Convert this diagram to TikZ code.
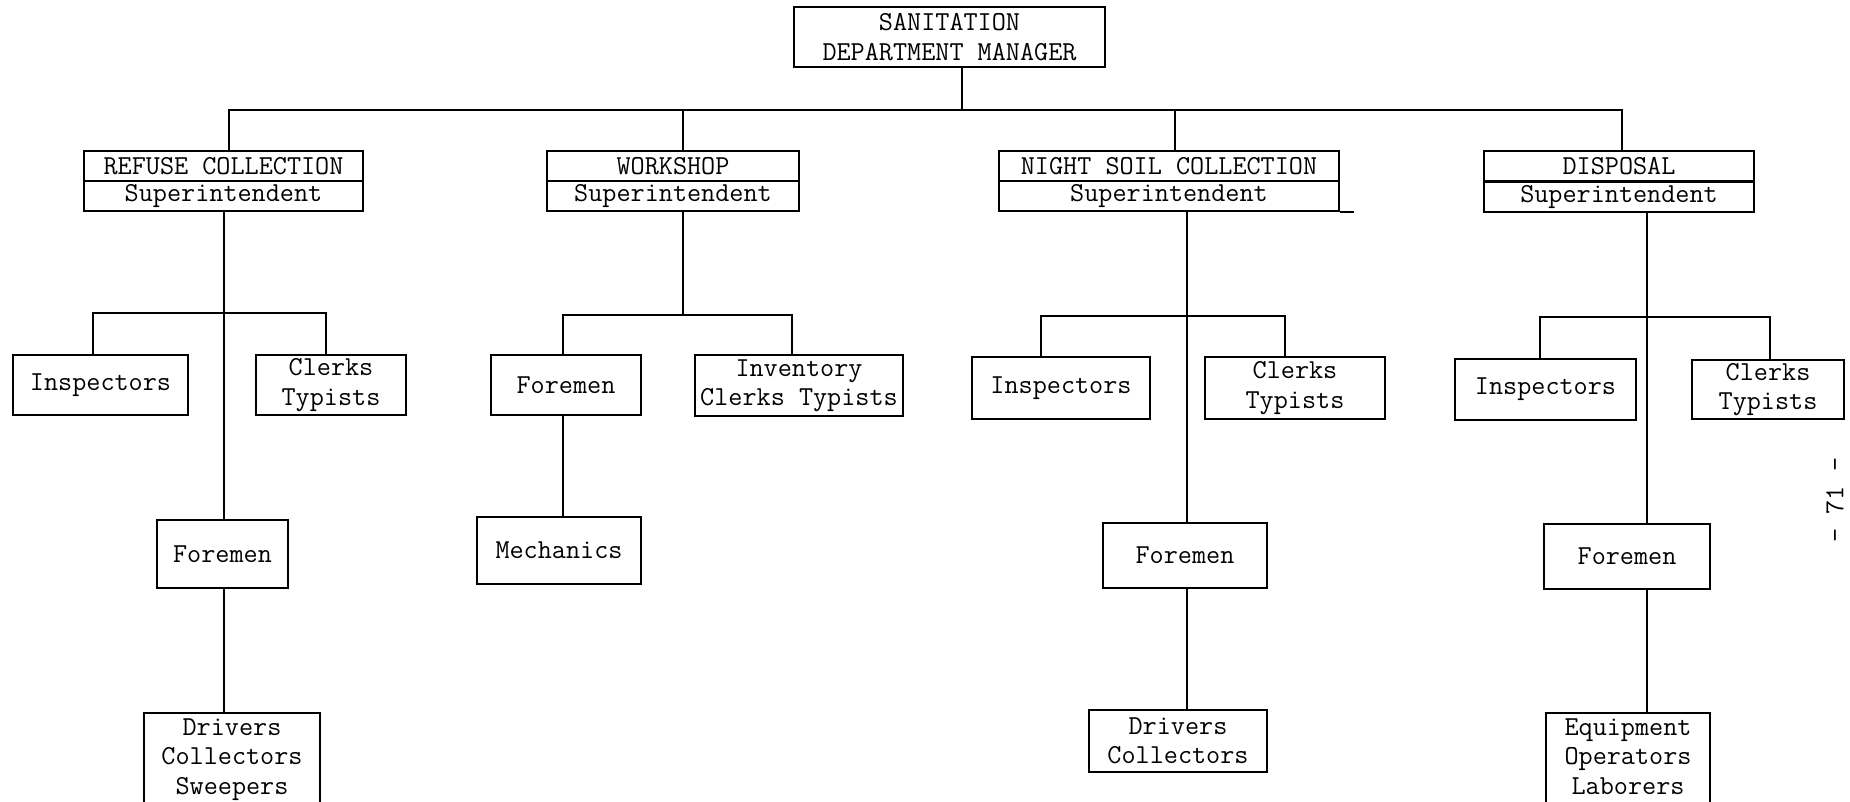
\documentclass[tikz,border=0pt]{standalone}
\usepackage{fontspec}
\newcommand\orgfont{\ttfamily\fontsize{13.7}{14.75}\selectfont}
\tikzset{
  box/.style={draw, line width=1.1pt, inner sep=0pt, font=\orgfont, align=center},
  lbl/.style={inner sep=0pt, font=\orgfont, align=center},
  conn/.style={line width=1.1pt},
}
\begin{document}
\begin{tikzpicture}[x=0.5pt,y=-0.5pt]
\useasboundingbox[fill=white] (0,0) rectangle (1850,802);

% top
\node[box, minimum width=155.5pt, minimum height=30pt] (top) at (949.5,37) {SANITATION\\DEPARTMENT MANAGER};

% level 2 boxes
\node[box, minimum width=139.5pt, minimum height=30pt] (ref) at (223.5,181) {};
\node[box, minimum width=126pt, minimum height=30pt] (work) at (673,181) {};
\node[box, minimum width=170pt, minimum height=30pt] (night) at (1169,181) {};
\node[box, minimum width=135pt, minimum height=30.5pt] (disp) at (1619,181.5) {};
\foreach \n in {ref,work,night,disp}{\draw[conn] (\n.west) -- (\n.east);}
\node[lbl] (refT) at (223.5,166) {REFUSE COLLECTION};
\node[lbl] (refB) at (223.5,196) {Superintendent};
\node[lbl] (workT) at (673,166) {WORKSHOP};
\node[lbl] (workB) at (673,196) {Superintendent};
\node[lbl] (nightT) at (1169,166) {NIGHT SOIL COLLECTION};
\node[lbl] (nightB) at (1169,196) {Superintendent};
\node[lbl] (dispT) at (1619,166.5) {DISPOSAL};
\node[lbl] (dispB) at (1619,197) {Superintendent};
\draw[conn] (night.south east) -- ++(14,0);

% top bus
\coordinate (t0) at (962,110);
\coordinate (tA) at (229,110);
\coordinate (tB) at (683,110);
\coordinate (tC) at (1175,110);
\coordinate (tD) at (1622,110);
\draw[conn] (top.south -| t0) -- (t0);
\draw[conn] (ref.north -| tA) -- (tA) -- (tD) -- (disp.north -| tD);
\draw[conn] (work.north -| tB) -- (tB);
\draw[conn] (night.north -| tC) -- (tC);

% refuse subtree
\node[box, minimum width=87.5pt, minimum height=30pt] (insp1) at (100.5,385) {Inspectors};
\node[box, minimum width=75pt, minimum height=30pt] (clerk1) at (331,385) {Clerks\\Typists};
\node[box, minimum width=65.5pt, minimum height=34pt] (fore1) at (222.5,554) {Foremen};
\node[box, minimum width=88pt, minimum height=55pt] (drv1) at (232,768) {};
\node[lbl, anchor=north] (drv1t) at (232,718) {Drivers\\Collectors\\Sweepers};
\coordinate (r1) at (224,313);
\coordinate (r1L) at (93,313);
\coordinate (r1R) at (326,313);
\draw[conn] (ref.south -| r1) -- (fore1.north -| r1);
\draw[conn] (insp1.north -| r1L) -- (r1L) -- (r1R) -- (clerk1.north -| r1R);
\draw[conn] (fore1.south -| r1) -- (drv1.north -| r1);

% workshop subtree
\node[box, minimum width=75pt, minimum height=30pt] (fore2) at (566,385) {Foremen};
\node[box, minimum width=104pt, minimum height=30.5pt] (inv) at (799,385.5) {Inventory\\Clerks Typists};
\node[box, minimum width=82pt, minimum height=33.5pt] (mech) at (559,550.5) {Mechanics};
\coordinate (w1) at (683,315);
\coordinate (w1L) at (563,315);
\coordinate (w1R) at (792,315);
\draw[conn] (work.south -| w1) -- (w1);
\draw[conn] (fore2.north -| w1L) -- (w1L) -- (w1R) -- (inv.north -| w1R);
\draw[conn] (fore2.south -| w1L) -- (mech.north -| w1L);

% night soil subtree
\node[box, minimum width=89pt, minimum height=31pt] (insp3) at (1061,388) {Inspectors};
\node[box, minimum width=90pt, minimum height=31pt] (clerk3) at (1295,388) {Clerks\\Typists};
\node[box, minimum width=82pt, minimum height=32.5pt] (fore3) at (1185,555.5) {Foremen};
\node[box, minimum width=89pt, minimum height=31pt] (drv3) at (1178,741) {Drivers\\Collectors};
\coordinate (n1) at (1187,316);
\coordinate (n1L) at (1041,316);
\coordinate (n1R) at (1285,316);
\draw[conn] (night.south -| n1) -- (fore3.north -| n1);
\draw[conn] (insp3.north -| n1L) -- (n1L) -- (n1R) -- (clerk3.north -| n1R);
\draw[conn] (fore3.south -| n1) -- (drv3.north -| n1);

% disposal subtree
\node[box, minimum width=90.5pt, minimum height=30.5pt] (insp4) at (1545.5,389.5) {Inspectors};
\node[box, minimum width=76pt, minimum height=29.5pt] (clerk4) at (1768,389.5) {Clerks\\Typists};
\node[box, minimum width=83pt, minimum height=32.5pt] (fore4) at (1627,556.5) {Foremen};
\node[box, minimum width=82pt, minimum height=55pt] (eq) at (1628,768) {};
\node[lbl, anchor=north] (eqt) at (1628,718) {Equipment\\Operators\\Laborers};
\coordinate (d1) at (1647,317);
\coordinate (d1L) at (1540,317);
\coordinate (d1R) at (1770,317);
\draw[conn] (disp.south -| d1) -- (fore4.north -| d1);
\draw[conn] (insp4.north -| d1L) -- (d1L) -- (d1R) -- (clerk4.north -| d1R);
\draw[conn] (fore4.south -| d1) -- (eq.north -| d1);

% page number
\node[lbl, rotate=90, anchor=south] (pg) at (1844,500) {- 71 -};
\end{tikzpicture}
\end{document}
